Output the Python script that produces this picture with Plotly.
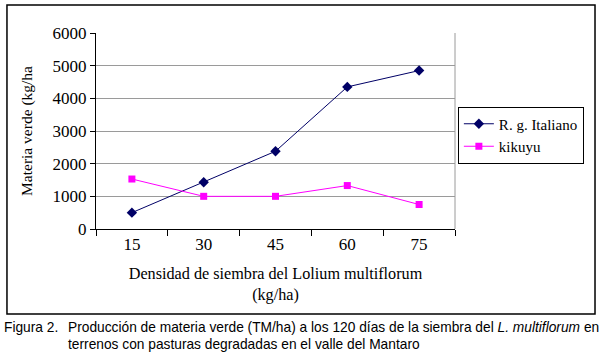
import plotly.graph_objects as go

categories = ["15", "30", "45", "60", "75"]
italiano = [500, 1430, 2380, 4350, 4850]
kikuyu = [1530, 1000, 1000, 1330, 750]
y_ticks = [0, 1000, 2000, 3000, 4000, 5000, 6000]

serif = "Liberation Serif, Times New Roman, serif"
sans = "Liberation Sans, Arial, sans-serif"

fig = go.Figure()
fig.add_trace(go.Scatter(
    x=categories, y=italiano, name="R. g. Italiano", mode="lines+markers",
    line=dict(color="#000066", width=1),
    marker=dict(symbol="diamond", size=8, color="#000066"),
))
fig.add_trace(go.Scatter(
    x=categories, y=kikuyu, name="kikuyu", mode="lines+markers",
    line=dict(color="#FF00FF", width=1),
    marker=dict(symbol="square", size=7, color="#FF00FF"),
))

cap_font = dict(family=sans, size=13.75, color="black")

fig.update_layout(
    width=600, height=354,
    margin=dict(l=96, r=145, t=33, b=125),
    paper_bgcolor="white", plot_bgcolor="white",
    font=dict(family=serif, size=17, color="black"),
    showlegend=True,
    legend=dict(
        x=1.008, y=0.625, xanchor="left", yanchor="top",
        bordercolor="black", borderwidth=1,
        font=dict(family=serif, size=15, color="black"),
        tracegroupgap=0, itemwidth=30,
    ),
    xaxis=dict(
        type="category", tickson="boundaries", ticks="outside", ticklen=6,
        tickcolor="black", showline=True, linecolor="black", linewidth=1,
        showgrid=False, tickfont=dict(family=serif, size=17),
        title=dict(text="Densidad de siembra del Lolium multiflorum<br>(kg/ha)",
                   font=dict(family=serif, size=16.2), standoff=14),
        range=[-0.5, 4.5],
    ),
    yaxis=dict(
        range=[0, 6000], tickvals=y_ticks, ticks="outside", ticklen=5,
        tickcolor="black", showline=True, linecolor="black", linewidth=1,
        showgrid=True, gridcolor="#9a9a9a", gridwidth=1, zeroline=False,
        tickfont=dict(family=serif, size=17),
        title=dict(text="Materia verde (kg/ha", font=dict(family=serif, size=15.5), standoff=16),
    ),
    shapes=[
        dict(type="line", xref="paper", yref="paper", x0=1, x1=1, y0=0, y1=1,
             line=dict(color="#9a9a9a", width=1)),
        dict(type="rect", xref="paper", yref="paper", x0=-0.248, x1=1.39,
             y0=-0.434, y1=1.143, line=dict(color="black", width=1.5)),
    ],
    annotations=[
        dict(text="Figura 2.", xref="paper", yref="paper", x=-0.262, y=-0.505,
             xanchor="left", yanchor="middle", showarrow=False, align="left",
             font=cap_font),
        dict(text="Producción de materia verde (TM/ha) a los 120 días de la siembra del <i>L. multiflorum</i> en",
             xref="paper", yref="paper", x=-0.084, y=-0.505,
             xanchor="left", yanchor="middle", showarrow=False, align="left",
             font=cap_font),
        dict(text="terrenos con pasturas degradadas en el valle del Mantaro",
             xref="paper", yref="paper", x=-0.084, y=-0.587,
             xanchor="left", yanchor="middle", showarrow=False, align="left",
             font=cap_font),
    ],
)

fig.write_html("out.html", config={"displayModeBar": False},
               post_script="document.body.style.margin='0';document.body.style.padding='0';")
